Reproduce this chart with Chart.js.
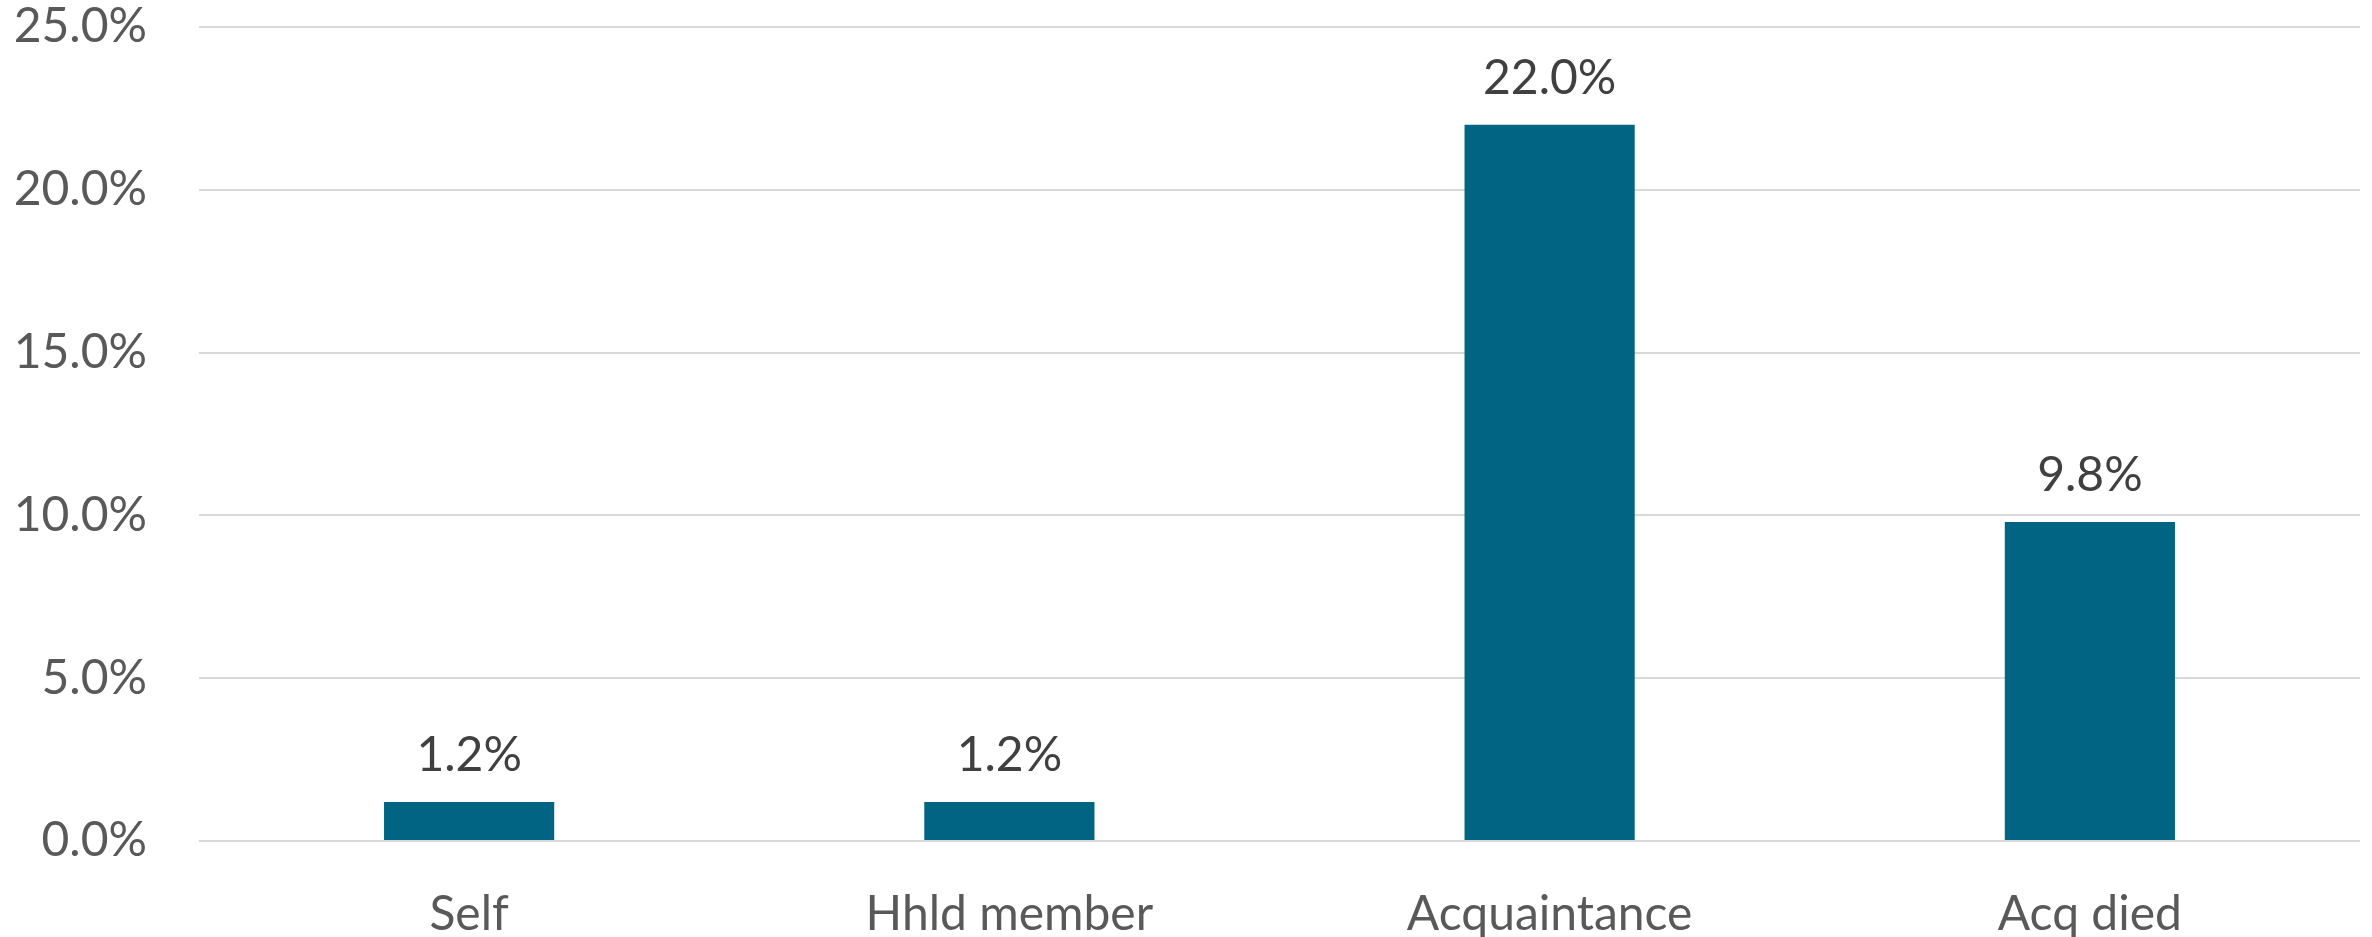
<!DOCTYPE html>
<html>
<head>
<meta charset="utf-8">
<script src="https://cdn.jsdelivr.net/npm/chart.js@4"></script>
<style>
  html, body { margin: 0; padding: 0; background: #fff; }
  #wrap { width: 2372px; height: 937px; }
</style>
</head>
<body>
<div id="wrap"><canvas id="chart" width="2372" height="937"></canvas></div>
<script>
const categories = ['Self', 'Hhld member', 'Acquaintance', 'Acq died'];
const shares = [1.2, 1.2, 22.0, 9.8];
const yTicks = [0, 5, 10, 15, 20, 25];

// draws the value above each bar
const barLabels = {
  id: 'barLabels',
  afterDatasetsDraw(chart) {
    const ctx = chart.ctx;
    const meta = chart.getDatasetMeta(0);
    ctx.save();
    ctx.font = '48px Lato';
    ctx.fillStyle = '#404040';
    ctx.textAlign = 'center';
    ctx.textBaseline = 'bottom';
    meta.data.forEach((bar, i) => {
      ctx.fillText(shares[i].toFixed(1) + '%', bar.x, bar.y - 22);
    });
    ctx.restore();
  }
};

new Chart(document.getElementById('chart'), {
  type: 'bar',
  data: {
    labels: categories,
    datasets: [{
      data: shares,
      backgroundColor: '#006482',
      categoryPercentage: 1,
      barPercentage: 0.315
    }]
  },
  options: {
    responsive: false,
    animation: false,
    layout: { padding: { top: 0, right: 12, left: 0, bottom: 0 } },
    plugins: { legend: { display: false }, tooltip: { enabled: false } },
    scales: {
      x: {
        grid: { display: false, drawTicks: false },
        border: { display: false },
        ticks: { color: '#595959', font: { family: 'Lato', size: 48 }, padding: 45 },
        afterFit(axis) { axis.height = 96; }
      },
      y: {
        min: 0,
        max: 25,
        afterBuildTicks(axis) { axis.ticks = yTicks.map(v => ({ value: v })); },
        grid: { color: '#d9d9d9', lineWidth: 2, drawTicks: false },
        border: { display: false },
        ticks: {
          color: '#595959',
          font: { family: 'Lato', size: 48 },
          padding: 52,
          callback: v => v.toFixed(1) + '%'
        },
        afterFit(axis) {
          axis.width = 199;
          // keep the top gridline close to the canvas edge
          axis.paddingTop = 27;
          axis.paddingBottom = 0;
        }
      }
    }
  },
  plugins: [barLabels]
});
</script>
</body>
</html>
